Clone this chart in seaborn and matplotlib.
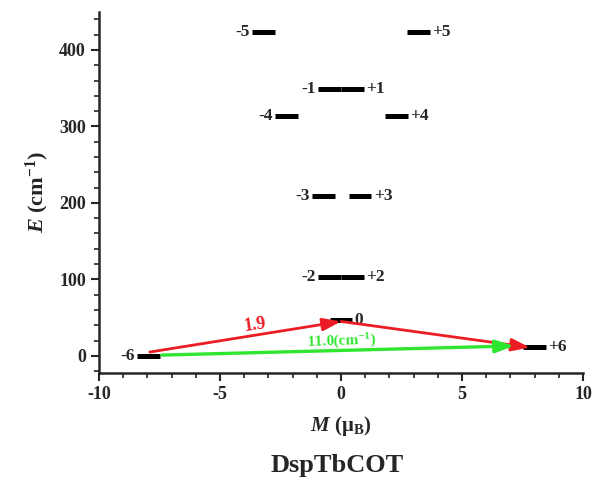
import matplotlib
matplotlib.use("Agg")
import matplotlib.pyplot as plt
from matplotlib.ticker import MultipleLocator
import seaborn as sns
import pandas as pd

# ---- data ----
level_labels = ["-6", "+6", "0", "-2", "+2", "-3", "+3", "-1", "+1", "-4", "+4", "-5", "+5"]
level_M = [-7.96, 8.0, 0.0, -0.48, 0.46, -0.73, 0.78, -0.47, 0.47, -2.25, 2.3, -3.2, 3.2]
level_E = [0, 11, 47, 103.5, 103.5, 209, 209, 348.5, 348.5, 314, 314, 423, 423]
half_width = 0.47

red_path_M = [-7.9, 0.0, 7.8]
red_path_E = [5, 45, 11]
green_path_M = [-7.4, 7.15]
green_path_E = [1, 13]

red_label = "1.9"
green_label = "11.0(cm$^{\\mathbf{-1}}$)"
title = "DspTbCOT"

# ---- build long-form table for seaborn ----
rows = []
for lab, m, e in zip(level_labels, level_M, level_E):
    rows.append({"level": lab, "M": m - half_width, "E": e})
    rows.append({"level": lab, "M": m + half_width, "E": e})
df = pd.DataFrame(rows)

sns.set_style("ticks")
plt.rcParams["font.family"] = ["Liberation Serif", "DejaVu Serif"]
plt.rcParams["axes.unicode_minus"] = False
plt.rcParams["mathtext.fontset"] = "custom"
plt.rcParams["mathtext.rm"] = "Liberation Serif:bold"
plt.rcParams["mathtext.it"] = "Liberation Serif:bold:italic"
plt.rcParams["mathtext.bf"] = "Liberation Serif:bold"

fig = plt.figure(figsize=(5.95, 4.88), dpi=100)
ax = fig.add_axes([0.1664, 0.2363, 0.8136, 0.7397])

sns.lineplot(data=df, x="M", y="E", units="level", estimator=None,
             color="black", linewidth=3.6, ax=ax, legend=False,
             solid_capstyle="butt")

# level labels
for lab, m, e in zip(level_labels, level_M, level_E):
    if lab.startswith("-"):
        ax.text(m - half_width - 0.1, e, lab, ha="right", va="center",
                fontsize=12.5, fontweight="bold")
    else:
        ax.text(m + half_width + 0.1, e, lab, ha="left", va="center",
                fontsize=12.5, fontweight="bold")

red = "#ec1c24"
green = "#2ee62e"
for i in range(len(red_path_M) - 1):
    ax.annotate("", xy=(red_path_M[i + 1], red_path_E[i + 1]),
                xytext=(red_path_M[i], red_path_E[i]),
                arrowprops=dict(arrowstyle="-|>,head_length=1.1,head_width=0.38",
                                color=red, lw=2.0, shrinkA=0, shrinkB=0))
ax.annotate("", xy=(green_path_M[1], green_path_E[1]),
            xytext=(green_path_M[0], green_path_E[0]),
            arrowprops=dict(arrowstyle="-|>,head_length=1.1,head_width=0.38",
                            color=green, lw=2.4, shrinkA=0, shrinkB=0))

ax.text(-3.55, 40, red_label, color=red, fontsize=13, fontweight="bold",
        ha="center", va="center", rotation=8)
ax.text(0.0, 19, green_label, color=green, fontsize=11, fontweight="bold",
        ha="center", va="center", rotation=2)

ax.set_xlim(-10, 10)
ax.set_ylim(-22, 450)
ax.xaxis.set_major_locator(MultipleLocator(5))
ax.xaxis.set_minor_locator(MultipleLocator(1))
ax.yaxis.set_major_locator(MultipleLocator(100))
ax.yaxis.set_minor_locator(MultipleLocator(20))
ax.set_yticks([0, 100, 200, 300, 400])
ax.tick_params(axis="both", which="major", length=6, width=1.5, direction="out",
               labelsize=13)
ax.tick_params(axis="both", which="minor", length=3.5, width=1.2, direction="out")
for t in ax.get_xticklabels() + ax.get_yticklabels():
    t.set_fontweight("bold")

sns.despine(ax=ax)
ax.spines["left"].set_linewidth(1.8)
ax.spines["bottom"].set_linewidth(1.8)

ax.set_xlabel("$\\mathit{M}$ ($\\mathregular{\\mu_B}$)", fontsize=15, fontweight="bold",
              labelpad=8)
ax.set_ylabel("$\\mathit{E}$ (cm$^{\\mathbf{-1}}$)", fontsize=16, fontweight="bold",
              labelpad=6)

fig.text(0.567, 0.047, title, fontsize=19, fontweight="bold", ha="center", va="center")

fig.savefig("out.png", dpi=100)
